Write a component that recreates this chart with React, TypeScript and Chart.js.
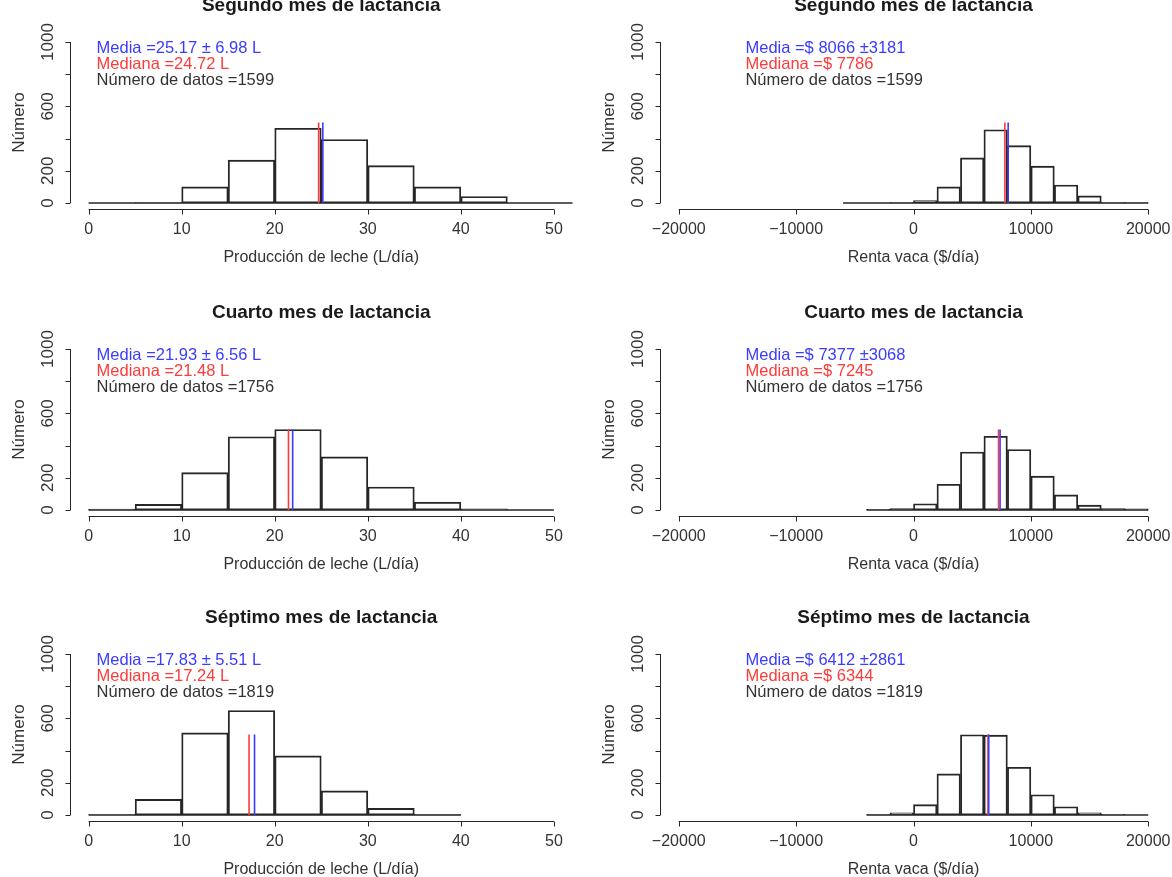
import React, { useEffect, useRef } from 'react';
import { Chart, registerables } from 'chart.js';

Chart.register(...registerables);

// ---------------- data ----------------
const panelTitles = ['Segundo mes de lactancia', 'Cuarto mes de lactancia', 'Séptimo mes de lactancia'];

const lecheBinWidth = 5;
const lecheBinStarts = [0, 0, 0];
const lecheCountsSegundo = [0, 3, 100, 266, 464, 394, 232, 100, 40, 0, 0];
const lecheCountsCuarto = [5, 35, 232, 455, 500, 330, 143, 48, 8, 0];
const lecheCountsSeptimo = [2, 97, 510, 649, 367, 150, 41, 3];
const lecheMeans = [25.17, 21.93, 17.83];
const lecheSDs = [6.98, 6.56, 5.51];
const lecheMedians = [24.72, 21.48, 17.24];

const rentaBinWidth = 2000;
const rentaBinStarts = [-6000, -4000, -4000];
const rentaCountsSegundo = [0, 0, 3, 15, 100, 280, 455, 356, 229, 112, 44, 3, 2];
const rentaCountsCuarto = [4, 9, 39, 160, 360, 458, 376, 210, 94, 30, 9, 7];
const rentaCountsSeptimo = [3, 13, 64, 255, 498, 496, 296, 126, 51, 13, 4, 0];
const rentaMeans = [8066, 7377, 6412];
const rentaSDs = [3181, 3068, 2861];
const rentaMedians = [7786, 7245, 6344];

const nDatos = [1599, 1756, 1819];

const lecheTicks = [0, 10, 20, 30, 40, 50];
const lecheTickLabels = ['0', '10', '20', '30', '40', '50'];
const rentaTicks = [-20000, -10000, 0, 10000, 20000];
const rentaTickLabels = ['\u221220000', '\u221210000', '0', '10000', '20000'];
const countTicks = [0, 200, 400, 600, 800, 1000];
const countTickLabels = ['0', '200', '', '600', '', '1000'];
const statLineTop = 500;

const lecheAxisTitle = 'Producción de leche (L/día)';
const rentaAxisTitle = 'Renta vaca ($/día)';
const countAxisTitle = 'Número';

// ---------------- styling / layout ----------------
const INK = '#262626';
const TEXT = '#333333';
const BLUE = '#3b3bff';
const RED = '#ff3a3a';
const FONT = '"Liberation Sans", Arial, sans-serif';

const CANVAS_W = 586;
const CANVAS_H = 300;
const ZERO_PX = 225;
const PX_PER_1000 = 161;
const rowTops = [-22, 285, 590];
const colLefts = [0, 586];
const colPad = [
  { left: 70, right: 13.5 },
  { left: 74, right: 5 },
];

type PanelCfg = {
  title: string;
  counts: number[];
  binStart: number;
  binWidth: number;
  mean: number;
  median: number;
  xMin: number;
  xMax: number;
  xTicks: number[];
  xTickLabels: string[];
  xTitle: string;
  legendX: number;
  lines: { text: string; color: string }[];
  row: number;
  col: number;
};

const lecheCounts = [lecheCountsSegundo, lecheCountsCuarto, lecheCountsSeptimo];
const rentaCounts = [rentaCountsSegundo, rentaCountsCuarto, rentaCountsSeptimo];

const panels: PanelCfg[] = [];
for (let r = 0; r < 3; r++) {
  panels.push({
    title: panelTitles[r],
    counts: lecheCounts[r],
    binStart: lecheBinStarts[r],
    binWidth: lecheBinWidth,
    mean: lecheMeans[r],
    median: lecheMedians[r],
    xMin: -2,
    xMax: 52,
    xTicks: lecheTicks,
    xTickLabels: lecheTickLabels,
    xTitle: lecheAxisTitle,
    legendX: 0,
    lines: [
      { text: `Media =${lecheMeans[r].toFixed(2)} \u00b1 ${lecheSDs[r].toFixed(2)} L`, color: BLUE },
      { text: `Mediana =${lecheMedians[r].toFixed(2)} L`, color: RED },
      { text: `Número de datos =${nDatos[r]}`, color: TEXT },
    ],
    row: r,
    col: 0,
  });
  panels.push({
    title: panelTitles[r],
    counts: rentaCounts[r],
    binStart: rentaBinStarts[r],
    binWidth: rentaBinWidth,
    mean: rentaMeans[r],
    median: rentaMedians[r],
    xMin: -21600,
    xMax: 21600,
    xTicks: rentaTicks,
    xTickLabels: rentaTickLabels,
    xTitle: rentaAxisTitle,
    legendX: -15000,
    lines: [
      { text: `Media =$ ${rentaMeans[r]} \u00b1${rentaSDs[r]}`, color: BLUE },
      { text: `Mediana =$ ${rentaMedians[r]}`, color: RED },
      { text: `Número de datos =${nDatos[r]}`, color: TEXT },
    ],
    row: r,
    col: 1,
  });
}

function makeRPlugin(cfg: PanelCfg) {
  return {
    id: 'rBaseGraphics',
    afterDraw(chart: any) {
      const { ctx, chartArea: a } = chart;
      const xs = chart.scales.x;
      const ys = chart.scales.y;
      ctx.save();
      ctx.strokeStyle = INK;
      ctx.lineWidth = 1;
      ctx.fillStyle = TEXT;

      // x axis (R style: line from first to last tick)
      const axY = Math.round(a.bottom) + 0.5;
      const xf = xs.getPixelForValue(cfg.xTicks[0]);
      const xl = xs.getPixelForValue(cfg.xTicks[cfg.xTicks.length - 1]);
      ctx.beginPath();
      ctx.moveTo(xf, axY);
      ctx.lineTo(xl, axY);
      cfg.xTicks.forEach((v) => {
        const px = Math.round(xs.getPixelForValue(v)) + 0.5;
        ctx.moveTo(px, axY);
        ctx.lineTo(px, axY + 5);
      });
      ctx.stroke();
      ctx.font = `16px ${FONT}`;
      ctx.textAlign = 'center';
      ctx.textBaseline = 'middle';
      cfg.xTicks.forEach((v, i) => {
        ctx.fillText(cfg.xTickLabels[i], xs.getPixelForValue(v), a.bottom + 20);
      });
      ctx.fillText(cfg.xTitle, (a.left + a.right) / 2, a.bottom + 48);

      // y axis
      const axX = Math.round(a.left) + 0.5;
      const y0 = ys.getPixelForValue(countTicks[0]);
      const y1 = ys.getPixelForValue(countTicks[countTicks.length - 1]);
      ctx.beginPath();
      ctx.moveTo(axX, y0);
      ctx.lineTo(axX, y1);
      countTicks.forEach((v) => {
        const py = Math.round(ys.getPixelForValue(v)) + 0.5;
        ctx.moveTo(axX, py);
        ctx.lineTo(axX - 5, py);
      });
      ctx.stroke();
      ctx.font = `17px ${FONT}`;
      countTicks.forEach((v, i) => {
        const lab = countTickLabels[i];
        if (!lab) return;
        ctx.save();
        ctx.translate(axX - 22, ys.getPixelForValue(v));
        ctx.rotate(-Math.PI / 2);
        ctx.fillText(lab, 0, 0);
        ctx.restore();
      });
      ctx.save();
      ctx.translate(axX - 51, (a.top + a.bottom) / 2);
      ctx.rotate(-Math.PI / 2);
      ctx.fillText(countAxisTitle, 0, 0);
      ctx.restore();

      // title
      ctx.fillStyle = '#1a1a1a';
      ctx.font = `bold 19px ${FONT}`;
      ctx.fillText(cfg.title, (a.left + a.right) / 2, a.top - 30);

      // annotation
      ctx.font = `16.5px ${FONT}`;
      ctx.textAlign = 'left';
      const tx = xs.getPixelForValue(cfg.legendX) + 8;
      const ty = ys.getPixelForValue(1000) + 6;
      cfg.lines.forEach((ln, i) => {
        ctx.fillStyle = ln.color;
        ctx.fillText(ln.text, tx, ty + i * 16);
      });
      ctx.restore();
    },
  };
}

function HistPanel({ cfg }: { cfg: PanelCfg }) {
  const ref = useRef<HTMLCanvasElement>(null);
  useEffect(() => {
    const canvas = ref.current;
    if (!canvas) return;
    const bars = cfg.counts.map((c, i) => ({ x: cfg.binStart + (i + 0.5) * cfg.binWidth, y: c }));
    const binEnd = cfg.binStart + cfg.counts.length * cfg.binWidth;
    const yMin = -40;
    const yMax = 1040;
    const top = ZERO_PX - (PX_PER_1000 * yMax) / 1000;
    const bottom = ZERO_PX - (PX_PER_1000 * yMin) / 1000;
    const chart = new Chart(canvas, {
      type: 'bar',
      data: {
        datasets: [
          {
            type: 'line',
            data: [
              { x: cfg.mean, y: 0 },
              { x: cfg.mean, y: statLineTop },
            ],
            borderColor: BLUE,
            borderWidth: 1.6,
            pointRadius: 0,
            order: 0,
          } as any,
          {
            type: 'line',
            data: [
              { x: cfg.median, y: 0 },
              { x: cfg.median, y: statLineTop },
            ],
            borderColor: RED,
            borderWidth: 1.6,
            pointRadius: 0,
            order: 0,
          } as any,
          {
            type: 'line',
            data: [
              { x: cfg.binStart, y: 0 },
              { x: binEnd, y: 0 },
            ],
            borderColor: INK,
            borderWidth: 1.3,
            pointRadius: 0,
            order: 1,
          } as any,
          {
            type: 'bar',
            data: bars,
            backgroundColor: 'rgba(255,255,255,0)',
            borderColor: INK,
            borderWidth: 1.2,
            borderSkipped: false,
            barPercentage: 1,
            categoryPercentage: 1,
            order: 2,
          } as any,
        ],
      },
      options: {
        animation: false,
        responsive: false,
        maintainAspectRatio: false,
        events: [],
        layout: {
          padding: {
            left: colPad[cfg.col].left,
            right: colPad[cfg.col].right,
            top,
            bottom: CANVAS_H - bottom,
          },
        },
        plugins: {
          legend: { display: false },
          tooltip: { enabled: false },
          title: { display: false },
        },
        scales: {
          x: {
            type: 'linear',
            min: cfg.xMin,
            max: cfg.xMax,
            offset: false,
            display: false,
            afterBuildTicks: (s: any) => {
              s.ticks = cfg.xTicks.map((v) => ({ value: v }));
            },
          },
          y: {
            type: 'linear',
            min: yMin,
            max: yMax,
            display: false,
            afterBuildTicks: (s: any) => {
              s.ticks = countTicks.map((v) => ({ value: v }));
            },
          },
        },
      } as any,
      plugins: [makeRPlugin(cfg) as any],
    });
    return () => chart.destroy();
  }, [cfg]);
  return (
    <canvas
      ref={ref}
      width={CANVAS_W}
      height={CANVAS_H}
      style={{
        position: 'absolute',
        left: colLefts[cfg.col],
        top: rowTops[cfg.row],
        width: CANVAS_W,
        height: CANVAS_H,
      }}
    />
  );
}

export default function App() {
  return (
    <div
      style={{
        position: 'absolute',
        left: 0,
        top: 0,
        width: 1172,
        height: 877,
        overflow: 'hidden',
        background: '#ffffff',
      }}
    >
      {panels.map((p, i) => (
        <HistPanel key={i} cfg={p} />
      ))}
    </div>
  );
}
